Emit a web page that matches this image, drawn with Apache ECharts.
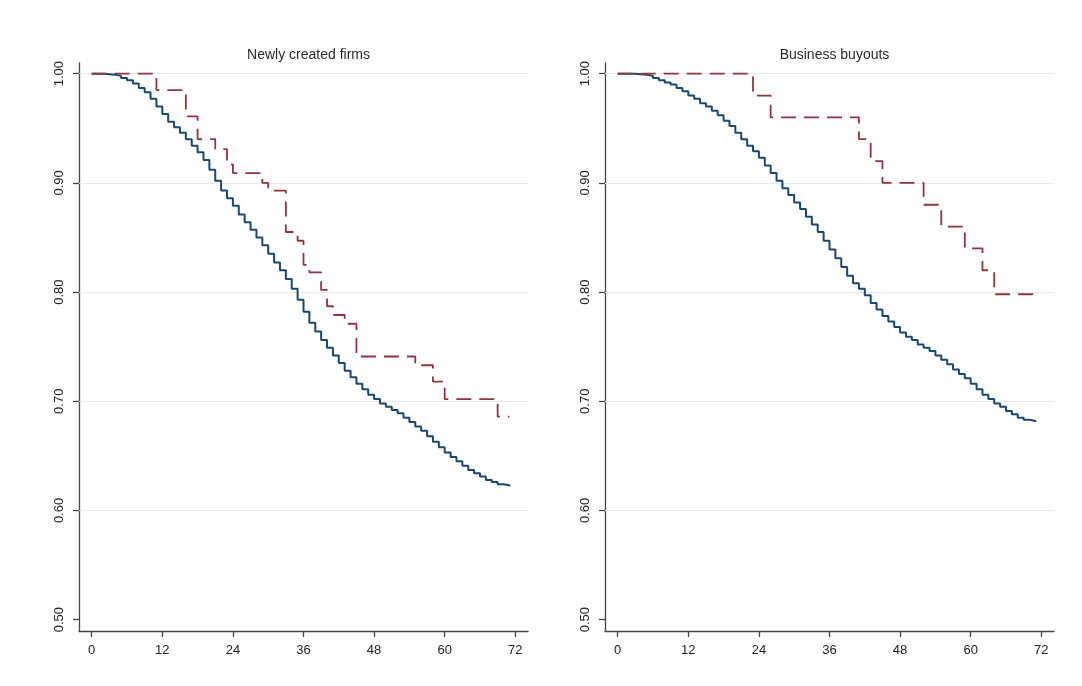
<!DOCTYPE html>
<html>
<head>
<meta charset="utf-8">
<script src="https://cdn.jsdelivr.net/npm/echarts@6/dist/echarts.min.js"></script>
<style>
html,body{margin:0;padding:0;background:#fff;}
#chart{width:1082px;height:686px;}
</style>
</head>
<body>
<div id="chart"></div>
<script>
// ---- data ----
const panelTitles = ['Newly created firms', 'Business buyouts'];
const xTicks = [0, 12, 24, 36, 48, 60, 72];
const yTicks = [0.5, 0.6, 0.7, 0.8, 0.9, 1.0];
const gridValues = [0.6, 0.7, 0.8, 0.9, 1.0];

// months at which the solid (blue) survival curve is read
const months = [0,1,2,3,4,5,6,7,8,9,10,11,12,13,14,15,16,17,18,19,20,21,22,23,
  24,25,26,27,28,29,30,31,32,33,34,35,36,37,38,39,40,41,42,43,44,45,46,47,
  48,49,50,51,52,53,54,55,56,57,58,59,60,61,62,63,64,65,66,67,68,69,70,71];

// Newly created firms, solid curve
const newSolid = [1.000,1.000,0.9995,0.999,0.998,0.996,0.994,0.991,0.987,0.983,0.977,0.970,
  0.963,0.956,0.951,0.946,0.940,0.934,0.928,0.921,0.912,0.902,0.893,0.886,
  0.879,0.871,0.864,0.857,0.850,0.843,0.835,0.827,0.820,0.812,0.803,0.793,
  0.782,0.772,0.764,0.756,0.749,0.742,0.735,0.728,0.722,0.716,0.711,0.706,
  0.702,0.698,0.695,0.692,0.689,0.685,0.681,0.677,0.673,0.668,0.663,0.658,
  0.653,0.649,0.645,0.641,0.637,0.634,0.631,0.628,0.626,0.624,0.623,0.622];

// Newly created firms, dashed curve (step times and values)
const newDashedT = [0, 11, 16, 18, 21, 23, 24, 29, 30, 33, 35, 36, 37, 39, 40, 41, 43, 45, 55, 58, 60, 69, 71];
const newDashedV = [1.000,0.985,0.961,0.940,0.931,0.917,0.909,0.900,0.893,0.855,0.847,0.825,0.818,0.802,0.787,0.779,0.771,0.741,0.733,0.718,0.702,0.686,0.686];

// Business buyouts, solid curve
const buySolid = [1.000,1.000,1.000,0.9995,0.999,0.998,0.996,0.994,0.992,0.990,0.987,0.984,
  0.980,0.977,0.973,0.970,0.966,0.962,0.957,0.952,0.946,0.940,0.934,0.929,
  0.923,0.916,0.909,0.902,0.895,0.889,0.882,0.876,0.869,0.862,0.855,0.847,
  0.839,0.831,0.823,0.815,0.808,0.803,0.797,0.790,0.784,0.778,0.773,0.768,
  0.763,0.759,0.756,0.752,0.749,0.746,0.742,0.738,0.734,0.729,0.725,0.721,
  0.716,0.711,0.706,0.702,0.698,0.695,0.691,0.688,0.685,0.683,0.682,0.681];

// Business buyouts, dashed curve
const buyDashedT = [0, 23, 26, 41, 43, 45, 52, 55, 59, 62, 64, 71];
const buyDashedV = [1.000,0.980,0.960,0.940,0.920,0.900,0.880,0.860,0.840,0.820,0.798,0.798];

// ---- chart ----
const BLUE = '#1a476f';
const RED = '#90353b';
const FONT = '"Liberation Sans", Arial, Helvetica, sans-serif';

function pairs(xs, ys){ return xs.map((x,i)=>[x, ys[i]]); }

const grids = [
  {left: 79, top: 63, width: 449, height: 568},
  {left: 605, top: 63, width: 449, height: 568}
];

function xAxis(i){
  return {
    type:'value', gridIndex:i, min:-2.16, max:74.16,
    axisLine:{show:true, onZero:false, lineStyle:{color:'#444', width:1.3}},
    axisTick:{show:true, length:6, customValues:xTicks, lineStyle:{color:'#444', width:1.3}},
    axisLabel:{customValues:xTicks, margin:13, fontSize:13, color:'#222', fontFamily:FONT},
    splitLine:{show:false}
  };
}
function yAxis(i){
  return {
    type:'value', gridIndex:i, min:0.4896, max:1.0098,
    axisLine:{show:true, onZero:false, lineStyle:{color:'#444', width:1.3}},
    axisTick:{show:true, length:6, customValues:yTicks, lineStyle:{color:'#444', width:1.3}},
    axisLabel:{customValues:yTicks, rotate:90, margin:13, fontSize:13, color:'#222', fontFamily:FONT,
      formatter:v=>Number(v).toFixed(2)},
    splitLine:{show:false}
  };
}
function gridSeries(i){
  return {
    name:'grid'+i, type:'line', xAxisIndex:i, yAxisIndex:i, data:[], z:1, silent:true,
    markLine:{
      silent:true, symbol:['none','none'], label:{show:false}, z:1,
      lineStyle:{color:'#e3edf0', width:1.2, type:'solid'},
      data: gridValues.map(v=>({yAxis:v}))
    }
  };
}

const option = {
  backgroundColor:'#fff',
  animation:false,
  title: panelTitles.map((t,i)=>({
    text:t, left: grids[i].left + grids[i].width/2, top:43, textAlign:'center',
    textStyle:{fontSize:14, fontWeight:'normal', color:'#2a2a2a', fontFamily:FONT}
  })),
  grid: grids,
  xAxis: [xAxis(0), xAxis(1)],
  yAxis: [yAxis(0), yAxis(1)],
  series: [
    gridSeries(0), gridSeries(1),
    {name:'Newly created firms (solid)', type:'line', step:'end', xAxisIndex:0, yAxisIndex:0,
     data: pairs(months, newSolid), showSymbol:false, symbol:'none', z:3,
     lineStyle:{color:BLUE, width:2}},
    {name:'Newly created firms (dashed)', type:'line', step:'end', xAxisIndex:0, yAxisIndex:0,
     data: pairs(newDashedT, newDashedV), showSymbol:false, symbol:'none', z:4,
     lineStyle:{color:RED, width:1.8, type:[15,8]}},
    {name:'Business buyouts (solid)', type:'line', step:'end', xAxisIndex:1, yAxisIndex:1,
     data: pairs(months, buySolid), showSymbol:false, symbol:'none', z:3,
     lineStyle:{color:BLUE, width:2}},
    {name:'Business buyouts (dashed)', type:'line', step:'end', xAxisIndex:1, yAxisIndex:1,
     data: pairs(buyDashedT, buyDashedV), showSymbol:false, symbol:'none', z:4,
     lineStyle:{color:RED, width:1.8, type:[15,8]}}
  ]
};

const chart = echarts.init(document.getElementById('chart'), null, {renderer:'canvas'});
chart.setOption(option);
</script>
</body>
</html>
